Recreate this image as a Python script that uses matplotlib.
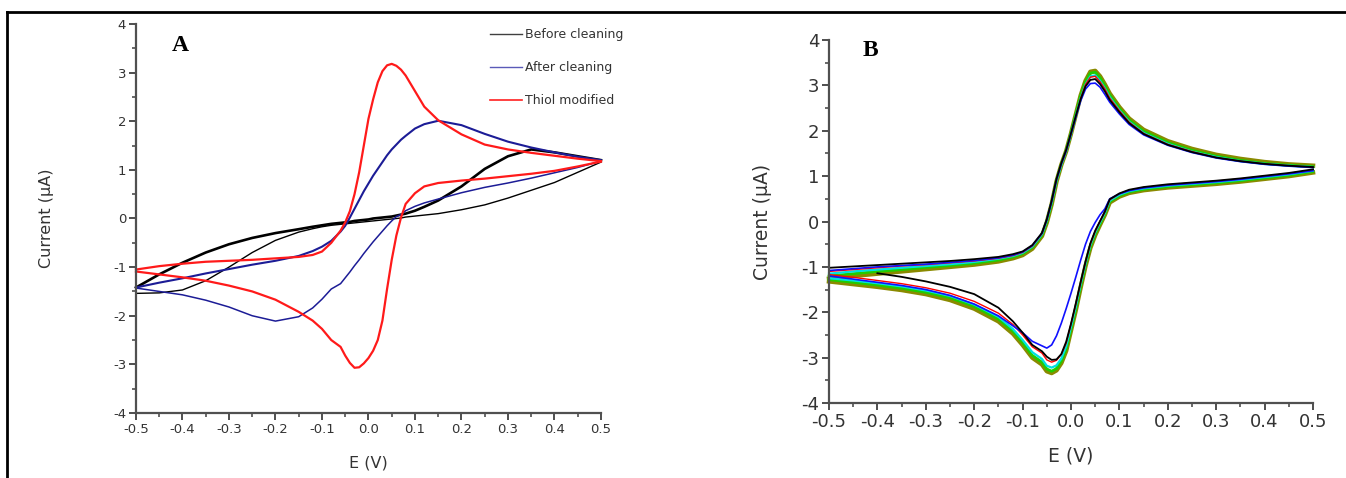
import matplotlib
matplotlib.use('Agg')
import matplotlib.pyplot as plt
from matplotlib.lines import Line2D
from matplotlib.ticker import MultipleLocator, FuncFormatter

plt.rcParams['axes.unicode_minus'] = False

# potential grid of the sweeps (V)
E_fwd = [-0.5, -0.45, -0.4, -0.35, -0.3, -0.25, -0.2, -0.15, -0.12, -0.1, -0.08, -0.06,
         -0.05, -0.04, -0.03, -0.02, -0.01, 0.0, 0.01, 0.02, 0.03, 0.04, 0.05, 0.06,
         0.07, 0.08, 0.1, 0.12, 0.15, 0.2, 0.25, 0.3, 0.35, 0.4, 0.45, 0.5]
E_rev = E_fwd[::-1]

# panel A, current (uA)
before_fwd = [-1.42, -1.15, -0.91, -0.7, -0.53, -0.4, -0.3, -0.22, -0.17, -0.14, -0.11, -0.09,
              -0.08, -0.07, -0.05, -0.04, -0.03, -0.02, 0.0, 0.01, 0.02, 0.03, 0.04, 0.06,
              0.08, 0.1, 0.16, 0.24, 0.37, 0.66, 1.02, 1.28, 1.42, 1.36, 1.28, 1.2]
before_rev = [1.16, 0.95, 0.74, 0.58, 0.42, 0.28, 0.18, 0.1, 0.07, 0.05, 0.03, 0.01,
              0.0, -0.01, -0.02, -0.03, -0.04, -0.05, -0.06, -0.07, -0.08, -0.09, -0.1, -0.11,
              -0.12, -0.14, -0.17, -0.21, -0.28, -0.45, -0.7, -1.0, -1.28, -1.47, -1.53, -1.54]
after_fwd = [-1.42, -1.32, -1.23, -1.13, -1.04, -0.95, -0.87, -0.77, -0.67, -0.58, -0.46, -0.27,
             -0.15, 0.02, 0.2, 0.38, 0.56, 0.72, 0.88, 1.02, 1.16, 1.3, 1.42, 1.52,
             1.62, 1.7, 1.85, 1.94, 2.01, 1.92, 1.74, 1.58, 1.46, 1.36, 1.27, 1.2]
after_rev = [1.18, 1.05, 0.94, 0.83, 0.73, 0.64, 0.53, 0.4, 0.32, 0.25, 0.16, 0.08,
             0.04, -0.05, -0.15, -0.26, -0.37, -0.48, -0.6, -0.72, -0.85, -0.97, -1.1, -1.22,
             -1.34, -1.45, -1.66, -1.84, -2.02, -2.11, -2.0, -1.82, -1.68, -1.57, -1.5, -1.43]
thiol_fwd = [-1.05, -0.98, -0.93, -0.89, -0.87, -0.85, -0.82, -0.79, -0.75, -0.68, -0.5, -0.25,
             -0.08, 0.15, 0.5, 0.95, 1.5, 2.05, 2.45, 2.8, 3.03, 3.15, 3.18, 3.14,
             3.06, 2.94, 2.62, 2.3, 2.02, 1.73, 1.52, 1.42, 1.35, 1.29, 1.23, 1.18]
thiol_rev = [1.17, 1.07, 0.98, 0.92, 0.87, 0.82, 0.78, 0.73, 0.66, 0.52, 0.3, 0.02,
             -0.35, -0.85, -1.45, -2.1, -2.5, -2.72, -2.87, -2.98, -3.06, -3.07, -2.97, -2.82,
             -2.64, -2.5, -2.27, -2.1, -1.92, -1.67, -1.5, -1.38, -1.28, -1.21, -1.15, -1.09]
legend_labels = ['Before cleaning', 'After cleaning', 'Thiol modified']

# panel B, repeated scans, current (uA)
olive_fwd = [-1.26, -1.2, -1.15, -1.1, -1.05, -1.0, -0.95, -0.88, -0.81, -0.74, -0.6, -0.32,
             -0.02, 0.38, 0.88, 1.25, 1.55, 1.94, 2.36, 2.78, 3.1, 3.3, 3.32, 3.2,
             3.02, 2.82, 2.52, 2.27, 2.02, 1.77, 1.6, 1.47, 1.38, 1.31, 1.26, 1.23]
olive_rev = [1.08, 1.0, 0.94, 0.88, 0.83, 0.79, 0.75, 0.69, 0.63, 0.55, 0.42, 0.15,
             -0.07, -0.3, -0.58, -0.98, -1.45, -1.95, -2.4, -2.85, -3.12, -3.28, -3.34, -3.3,
             -3.15, -3.0, -2.72, -2.47, -2.2, -1.92, -1.73, -1.6, -1.51, -1.44, -1.38, -1.32]
green_fwd = [-1.2, -1.15, -1.1, -1.06, -1.01, -0.97, -0.92, -0.85, -0.78, -0.71, -0.57, -0.3,
             0.0, 0.4, 0.9, 1.26, 1.56, 1.95, 2.37, 2.78, 3.08, 3.27, 3.29, 3.17,
             2.99, 2.79, 2.49, 2.24, 1.99, 1.74, 1.57, 1.44, 1.35, 1.28, 1.24, 1.21]
green_rev = [1.1, 1.02, 0.96, 0.9, 0.85, 0.81, 0.77, 0.71, 0.65, 0.57, 0.44, 0.17,
             -0.05, -0.27, -0.55, -0.95, -1.42, -1.92, -2.37, -2.81, -3.08, -3.24, -3.3, -3.25,
             -3.1, -2.95, -2.67, -2.42, -2.15, -1.87, -1.68, -1.56, -1.47, -1.4, -1.34, -1.28]
cyan_fwd = [-1.15, -1.1, -1.06, -1.02, -0.98, -0.94, -0.89, -0.82, -0.76, -0.69, -0.55, -0.28,
            0.02, 0.42, 0.9, 1.25, 1.55, 1.93, 2.33, 2.72, 3.02, 3.2, 3.22, 3.1,
            2.93, 2.74, 2.45, 2.2, 1.95, 1.71, 1.54, 1.42, 1.33, 1.27, 1.23, 1.2]
cyan_rev = [1.12, 1.04, 0.98, 0.92, 0.87, 0.83, 0.79, 0.73, 0.67, 0.59, 0.46, 0.19,
            -0.02, -0.24, -0.52, -0.92, -1.38, -1.87, -2.32, -2.75, -3.02, -3.17, -3.22, -3.18,
            -3.03, -2.88, -2.61, -2.37, -2.1, -1.83, -1.64, -1.52, -1.43, -1.36, -1.3, -1.25]
blue_fwd = [-1.08, -1.04, -1.0, -0.97, -0.94, -0.9, -0.86, -0.8, -0.74, -0.67, -0.53, -0.26,
            0.04, 0.44, 0.92, 1.27, 1.56, 1.93, 2.3, 2.66, 2.92, 3.04, 3.05, 2.96,
            2.8, 2.63, 2.37, 2.14, 1.91, 1.68, 1.52, 1.4, 1.32, 1.26, 1.22, 1.19]
blue_rev = [1.12, 1.05, 0.99, 0.93, 0.88, 0.84, 0.8, 0.74, 0.68, 0.61, 0.5, 0.28,
            0.15, -0.02, -0.22, -0.5, -0.85, -1.22, -1.58, -1.92, -2.24, -2.52, -2.72, -2.79,
            -2.74, -2.64, -2.45, -2.3, -2.08, -1.82, -1.63, -1.5, -1.41, -1.34, -1.27, -1.2]
red_fwd = [-1.1, -1.06, -1.02, -0.98, -0.95, -0.91, -0.87, -0.81, -0.75, -0.68, -0.54, -0.27,
           0.03, 0.43, 0.91, 1.26, 1.55, 1.93, 2.32, 2.72, 3.02, 3.18, 3.2, 3.08,
           2.92, 2.72, 2.44, 2.19, 1.94, 1.7, 1.54, 1.41, 1.33, 1.27, 1.23, 1.2]
red_rev = [1.14, 1.06, 1.0, 0.94, 0.89, 0.85, 0.81, 0.75, 0.69, 0.61, 0.48, 0.21,
           0.0, -0.22, -0.5, -0.9, -1.35, -1.83, -2.27, -2.68, -2.93, -3.06, -3.1, -3.05,
           -2.9, -2.76, -2.5, -2.27, -2.02, -1.76, -1.58, -1.46, -1.37, -1.3, -1.23, -1.17]
black_fwd = [-1.02, -0.99, -0.96, -0.93, -0.9, -0.87, -0.83, -0.78, -0.72, -0.66, -0.52, -0.25,
             0.05, 0.46, 0.94, 1.29, 1.58, 1.95, 2.33, 2.7, 2.98, 3.12, 3.14, 3.03,
             2.87, 2.68, 2.41, 2.17, 1.93, 1.69, 1.53, 1.41, 1.33, 1.27, 1.23, 1.2]
black_rev = [1.15, 1.07, 1.01, 0.95, 0.9, 0.86, 0.82, 0.76, 0.7, 0.62, 0.49, 0.22,
             0.01, -0.2, -0.48, -0.88, -1.33, -1.8, -2.25, -2.65, -2.92, -3.04, -3.05, -2.98,
             -2.86, -2.72, -2.45, -2.2, -1.9, -1.6, -1.44, -1.32, -1.22, -1.14]  # stops at -0.4 V


def style_axis(ax, tick_fs, label_fs, ylab_x, xlab_y):
    for s in ['top', 'right']:
        ax.spines[s].set_visible(False)
    for s in ['left', 'bottom']:
        ax.spines[s].set_color('#505050')
        ax.spines[s].set_linewidth(1.6)
    ax.set_xlim(-0.5, 0.5)
    ax.set_ylim(-4, 4)
    ax.xaxis.set_major_locator(MultipleLocator(0.1))
    ax.xaxis.set_minor_locator(MultipleLocator(0.05))
    ax.yaxis.set_major_locator(MultipleLocator(1))
    ax.yaxis.set_minor_locator(MultipleLocator(0.5))
    ax.xaxis.set_major_formatter(FuncFormatter(lambda v, p: '%.1f' % (round(v, 2) + 0.0)))
    ax.yaxis.set_major_formatter(FuncFormatter(lambda v, p: '%d' % round(v)))
    ax.tick_params(which='major', direction='out', length=5, width=1.3, color='#404040',
                   labelsize=tick_fs, labelcolor='#333333', pad=2)
    ax.tick_params(which='minor', direction='out', length=3, width=1.1, color='#404040')
    ax.set_xlabel('E (V)', fontsize=label_fs, color='#333333')
    ax.set_ylabel('Current (\u03bcA)', fontsize=label_fs, color='#333333')
    ax.yaxis.set_label_coords(ylab_x, 0.5)
    ax.xaxis.set_label_coords(0.5, xlab_y)


fig = plt.figure(figsize=(13.46, 4.78), dpi=100)

# outer frame of the figure (top and left rules)
fig.add_artist(Line2D([0.0052, 1.0], [0.975, 0.975], transform=fig.transFigure, color='black', lw=2))
fig.add_artist(Line2D([0.0052, 0.0052], [0.0, 0.975], transform=fig.transFigure, color='black', lw=2))

# --- panel A
axA = fig.add_axes([0.101, 0.136, 0.3455, 0.8138])
axA.plot(E_fwd, before_fwd, color='black', lw=1.9, clip_on=False)
axA.plot(E_rev, before_rev, color='black', lw=1.0, clip_on=False)
axA.plot(E_fwd, after_fwd, color='#1c1c96', lw=1.5, clip_on=False)
axA.plot(E_rev, after_rev, color='#1c1c96', lw=1.1, clip_on=False)
axA.plot(E_fwd, thiol_fwd, color='#ff1a1a', lw=1.6, clip_on=False)
axA.plot(E_rev, thiol_rev, color='#ff1a1a', lw=1.6, clip_on=False)
style_axis(axA, 9.5, 11.5, -0.177, -0.108)
axA.text(0.095, 0.946, 'A', transform=axA.transAxes, ha='center', va='center',
         fontsize=17, fontweight='bold', family='Liberation Serif')
handles = [Line2D([], [], color='#404040', lw=1.0),
           Line2D([], [], color='#5a5ab8', lw=1.0),
           Line2D([], [], color='#ff2020', lw=1.2)]
axA.legend(handles, legend_labels, loc='upper left', bbox_to_anchor=(0.761, 0.99),
           frameon=False, fontsize=9, handlelength=2.6, handletextpad=0.2,
           labelspacing=1.6, borderaxespad=0, borderpad=0, labelcolor='#333333')

# --- panel B
axB = fig.add_axes([0.6159, 0.1569, 0.3596, 0.7594])
scans = [(olive_fwd, olive_rev, '#8a8a00', 3.2),
         (green_fwd, green_rev, '#22cc00', 2.0),
         (cyan_fwd, cyan_rev, '#00e0e0', 1.6),
         (red_fwd, red_rev, '#ff0000', 1.0),
         (blue_fwd, blue_rev, '#1010ff', 1.2),
         (black_fwd, black_rev, 'black', 1.3)]
for fwd, rev, col, lw in scans:
    axB.plot(E_fwd, fwd, color=col, lw=lw, clip_on=False)
    axB.plot(E_rev[:len(rev)], rev, color=col, lw=lw, clip_on=False)
style_axis(axB, 13, 13.5, -0.117, -0.121)
axB.text(0.085, 0.972, 'B', transform=axB.transAxes, ha='center', va='center',
         fontsize=17, fontweight='bold', family='Liberation Serif')

plt.savefig('out.png', dpi=100)
plt.close(fig)
